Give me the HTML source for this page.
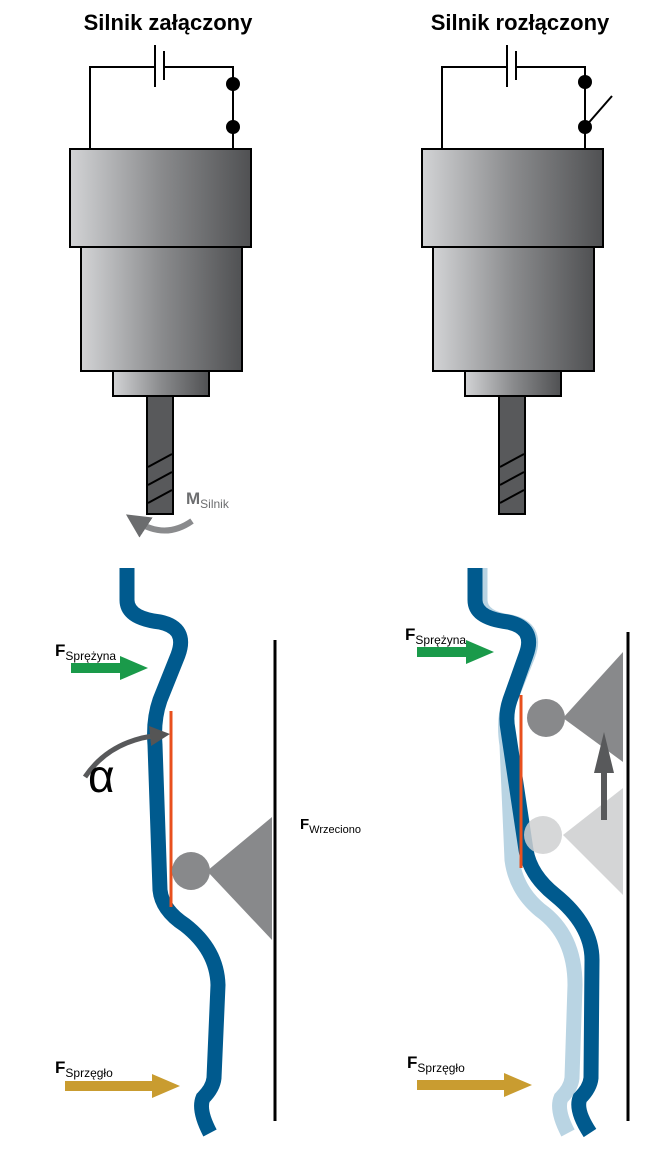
<!DOCTYPE html>
<html><head><meta charset="utf-8"><style>
html,body{margin:0;padding:0;background:#fff;}
svg{display:block;}
text{font-family:"Liberation Sans",sans-serif;}
</style></head><body>
<svg width="660" height="1158" viewBox="0 0 660 1158" xmlns="http://www.w3.org/2000/svg">
<defs>
<linearGradient id="g" x1="0" x2="1" y1="0" y2="0">
<stop offset="0" stop-color="#d2d3d5"/><stop offset="0.5" stop-color="#8a8b8d"/><stop offset="1" stop-color="#505153"/>
</linearGradient>
<marker id="ah" viewBox="0 0 10 10" refX="5" refY="5" markerWidth="4" markerHeight="4" orient="auto"><path d="M0,0L10,5L0,10z" fill="#6b6c6e"/></marker>
<marker id="ah2" viewBox="0 0 10 10" refX="5" refY="5" markerWidth="4" markerHeight="4" orient="auto"><path d="M0,0L10,5L0,10z" fill="#555"/></marker>
<g id="motor">
<path d="M90,149V67H155M164,67H233V149" fill="none" stroke="#000" stroke-width="2"/>
<line x1="155" y1="45" x2="155" y2="87" stroke="#000" stroke-width="2"/>
<line x1="164" y1="51" x2="164" y2="80" stroke="#000" stroke-width="2"/>
<rect x="70" y="149" width="181" height="98" fill="url(#g)" stroke="#000" stroke-width="2"/>
<rect x="81" y="247" width="161" height="124" fill="url(#g)" stroke="#000" stroke-width="2"/>
<rect x="113" y="371" width="96" height="25" fill="url(#g)" stroke="#000" stroke-width="2"/>
<rect x="147" y="396" width="26" height="118" fill="#58595b" stroke="#000" stroke-width="2"/>
<path d="M148,467L172,454M148,485L172,472M148,503L172,490" stroke="#000" stroke-width="2"/>
</g>
</defs>
<text x="168" y="30" font-size="22" font-weight="bold" text-anchor="middle">Silnik załączony</text>
<text x="520" y="30" font-size="22" font-weight="bold" text-anchor="middle">Silnik rozłączony</text>
<use href="#motor"/>
<circle cx="233" cy="84" r="7"/><circle cx="233" cy="127" r="7"/>
<text x="186" y="504" font-size="17" font-weight="bold" fill="#6d6e70">M<tspan font-size="12" font-weight="normal" dy="4">Silnik</tspan></text>
<path d="M192,521Q165,540 136,521" fill="none" stroke="#8a8b8d" stroke-width="6" marker-end="url(#ah)"/>
<use href="#motor" x="352"/>
<path d="M585,149V82" stroke="#000" stroke-width="2"/>
<circle cx="585" cy="82" r="7"/><circle cx="585" cy="127" r="7"/>
<line x1="585" y1="127" x2="612" y2="96" stroke="#000" stroke-width="2"/>
<!-- bottom left -->
<path d="M127,568V600Q127,618 160,622Q188,628 178,655L160,700Q153,720 155,745L160,890Q162,910 185,925Q217,950 218,985L214,1078Q213,1088 203,1098Q198,1110 210,1133" fill="none" stroke="#005a8e" stroke-width="15"/>
<line x1="171" y1="711" x2="171" y2="907" stroke="#e8501e" stroke-width="3"/>
<line x1="275" y1="640" x2="275" y2="1121" stroke="#000" stroke-width="3"/>
<path d="M207,871L272,817V940z" fill="#88898b"/>
<circle cx="191" cy="871" r="19" fill="#88898b"/>
<text x="55" y="656" font-size="17" font-weight="bold">F<tspan font-size="12" font-weight="normal" dy="4">Sprężyna</tspan></text>
<path d="M71,663H120V656L148,668L120,680V673H71z" fill="#1a9a4a"/>
<path d="M85,777Q110,740 160,735" fill="none" stroke="#58595b" stroke-width="5" marker-end="url(#ah2)"/>
<text x="88" y="792" font-size="46" fill="#000">α</text>
<text x="300" y="829" font-size="15" font-weight="bold">F<tspan font-size="11" font-weight="normal" dy="4">Wrzeciono</tspan></text>
<text x="55" y="1073" font-size="17" font-weight="bold">F<tspan font-size="12" font-weight="normal" dy="4">Sprzęgło</tspan></text>
<path d="M65,1081H152V1074L180,1086L152,1098V1091H65z" fill="#c99c30"/>
<!-- bottom right -->
<path d="M480,568V600Q480,618 510,622Q538,628 528,655L510,700Q503,720 507,745L512,860Q516,890 540,910Q575,935 575,985L572,1078Q571,1088 561,1098Q556,1110 568,1133" fill="none" stroke="#b9d4e3" stroke-width="15"/>
<path d="M475,568V600Q475,618 508,622Q536,628 526,655L510,700Q505,715 508,730L526,850Q530,875 555,895Q592,925 592,960L591,1078Q590,1088 580,1098Q575,1110 590,1133" fill="none" stroke="#005a8e" stroke-width="15"/>
<line x1="521" y1="695" x2="521" y2="868" stroke="#e8501e" stroke-width="3"/>
<line x1="628" y1="632" x2="628" y2="1121" stroke="#000" stroke-width="3"/>
<path d="M563,718L623,652V762z" fill="#88898b"/>
<circle cx="546" cy="718" r="19" fill="#88898b"/>
<path d="M563,835L623,788V895z" fill="#cfd0d1" opacity="0.9"/>
<circle cx="543" cy="835" r="19" fill="#cfd0d1" opacity="0.85"/>
<path d="M601,820V773H594L604,732L614,773H607V820z" fill="#58595b"/>
<text x="405" y="640" font-size="17" font-weight="bold">F<tspan font-size="12" font-weight="normal" dy="4">Sprężyna</tspan></text>
<path d="M417,647H466V640L494,652L466,664V657H417z" fill="#1a9a4a"/>
<text x="407" y="1068" font-size="17" font-weight="bold">F<tspan font-size="12" font-weight="normal" dy="4">Sprzęgło</tspan></text>
<path d="M417,1080H504V1073L532,1085L504,1097V1090H417z" fill="#c99c30"/>
</svg>
</body></html>
